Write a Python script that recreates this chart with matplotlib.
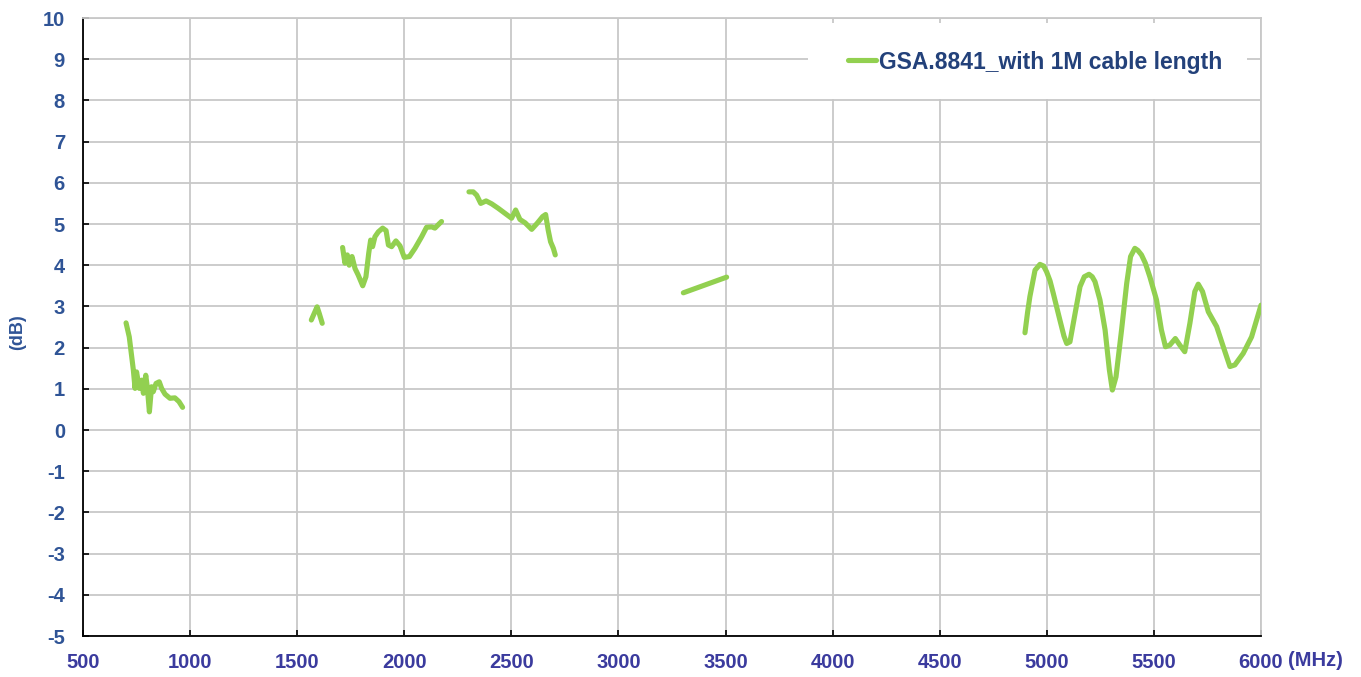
import matplotlib
matplotlib.use("Agg")
import matplotlib.pyplot as plt
from matplotlib.patches import Rectangle
import numpy as np

plt.rcParams['font.family'] = ['Liberation Sans', 'DejaVu Sans']
plt.rcParams['axes.unicode_minus'] = False

series_name = "GSA.8841_with 1M cable length"

seg1_f = [701, 716, 735, 743, 750, 763, 774, 782, 793, 800, 810, 820, 828, 841, 856, 867, 883, 906, 929, 948, 965]
seg1_v = [2.60, 2.26, 1.46, 1.01, 1.41, 1.01, 1.21, 0.89, 1.33, 1.05, 0.44, 1.05, 0.93, 1.13, 1.17, 1.01, 0.87, 0.77, 0.78, 0.69, 0.55]

seg2_f = [1566, 1593, 1603, 1617]
seg2_v = [2.67, 2.99, 2.83, 2.59]

seg3_f = [1712, 1723, 1734, 1743, 1756, 1770, 1785, 1806, 1821, 1834, 1843, 1852, 1863, 1879, 1899, 1915,
          1926, 1941, 1961, 1980, 2000, 2024, 2050, 2081, 2104, 2128, 2143, 2162, 2174]
seg3_v = [4.43, 4.05, 4.25, 4.00, 4.21, 3.92, 3.76, 3.50, 3.72, 4.29, 4.61, 4.45, 4.69, 4.81, 4.90, 4.84,
          4.49, 4.45, 4.59, 4.47, 4.19, 4.21, 4.41, 4.69, 4.92, 4.93, 4.90, 5.00, 5.06]

seg4_f = [2302, 2322, 2338, 2357, 2382, 2408, 2439, 2470, 2501, 2520, 2540, 2564, 2595, 2621, 2646, 2660,
          2672, 2683, 2696, 2705]
seg4_v = [5.78, 5.78, 5.70, 5.50, 5.56, 5.49, 5.38, 5.26, 5.14, 5.34, 5.11, 5.03, 4.87, 5.02, 5.18, 5.23,
          4.85, 4.57, 4.41, 4.25]

seg5_f = [3303, 3505]
seg5_v = [3.33, 3.71]

seg6_f = [4898, 4910, 4921, 4945, 4968, 4985, 4999, 5015, 5030, 5061, 5080, 5093, 5108, 5132, 5155, 5175, 5197,
          5212, 5225, 5248, 5272, 5292, 5306, 5323, 5349, 5373, 5391, 5411, 5425, 5442, 5460, 5481, 5512,
          5535, 5554, 5574, 5600, 5621, 5644, 5668, 5691, 5707, 5727, 5754, 5793, 5824, 5855, 5878, 5917,
          5956, 6000]
seg6_v = [2.36, 2.85, 3.24, 3.88, 4.02, 3.98, 3.84, 3.62, 3.32, 2.67, 2.28, 2.10, 2.14, 2.83, 3.48, 3.72, 3.78,
          3.72, 3.60, 3.16, 2.43, 1.46, 0.97, 1.29, 2.43, 3.56, 4.21, 4.41, 4.36, 4.25, 4.05, 3.72, 3.16,
          2.43, 2.02, 2.06, 2.22, 2.06, 1.90, 2.59, 3.36, 3.54, 3.36, 2.87, 2.51, 2.02, 1.54, 1.58, 1.86,
          2.26, 3.03]

segments = [(seg1_f, seg1_v), (seg2_f, seg2_v), (seg3_f, seg3_v),
            (seg4_f, seg4_v), (seg5_f, seg5_v), (seg6_f, seg6_v)]

x_ticks = [500, 1000, 1500, 2000, 2500, 3000, 3500, 4000, 4500, 5000, 5500, 6000]
y_ticks = list(range(-5, 11))

green = '#92D050'
ycol = '#2F5496'
xcol = '#3B3B9E'

W, H = 1361, 677
L, R, T, B = 83, 1261, 18, 636

fig = plt.figure(figsize=(W/100, H/100), dpi=100)
ax = fig.add_axes([L/W, 1-B/H, (R-L)/W, (B-T)/H])

def ax_x(px):
    return (px - L) / (R - L)

def ax_y(py):
    return (B - py) / (B - T)

for i, (f, v) in enumerate(segments):
    ax.plot(f, v, color=green, lw=3.7, solid_joinstyle='round', solid_capstyle='round',
            label=series_name if i == 0 else None, zorder=3)

ax.set_xlim(500, 6000)
ax.set_ylim(-5, 10)
ax.set_xticks(x_ticks)
ax.set_yticks(y_ticks)
ax.grid(True, color='#C8C8C8', lw=1.3)
ax.set_axisbelow(True)

for s in ['top', 'right']:
    ax.spines[s].set_color('#C8C8C8')
    ax.spines[s].set_linewidth(1.3)
for s in ['left', 'bottom']:
    ax.spines[s].set_color('black')
    ax.spines[s].set_linewidth(1.3)

ax.tick_params(axis='both', direction='in', length=4, width=1.2, color='black')
ax.tick_params(axis='y', pad=13, labelcolor=ycol, labelsize=14.5)
ax.tick_params(axis='x', pad=12, labelcolor=xcol, labelsize=14.5)
for lab in ax.get_xticklabels() + ax.get_yticklabels():
    lab.set_fontweight('bold')

ax.text(ax_x(1288), ax_y(661), "(MHz)", transform=ax.transAxes, ha='left', va='center',
        fontsize=14.5, fontweight='bold', color=xcol)
fig.text(18/W, 1-332/H, "(dB)", rotation=90, ha='center', va='center',
         fontsize=13, fontweight='bold', color=ycol)

# legend background box
ax.add_patch(Rectangle((ax_x(808), ax_y(99)), ax_x(1247) - ax_x(808), ax_y(23) - ax_y(99),
                       transform=ax.transAxes, facecolor='white', edgecolor='none', zorder=1))

leg = ax.legend(loc='center left', bbox_to_anchor=(ax_x(848), ax_y(62)),
                frameon=False, borderpad=0, borderaxespad=0,
                handlelength=1.2, handletextpad=0.15,
                prop={'weight': 'bold', 'size': 16.5})
for t in leg.get_texts():
    t.set_color('#23417A')

fig.savefig('out.png', dpi=100, facecolor='white')
